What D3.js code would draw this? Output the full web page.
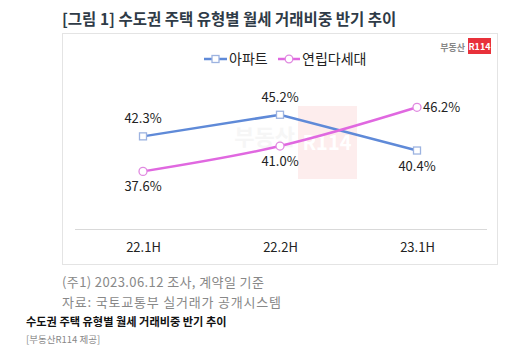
<!DOCTYPE html>
<html><head><meta charset="utf-8">
<script src="https://cdn.jsdelivr.net/npm/d3@7"></script>
<style>
body{margin:0;background:#fff;}
svg{display:block;font-family:"Noto Sans CJK KR","Noto Sans",sans-serif;}
</style></head>
<body>
<svg id="c" width="513" height="355"></svg>
<script>
const categories = ["22.1H", "22.2H", "23.1H"];
const apartment = [42.3, 45.2, 40.4];
const multiHouse = [37.6, 41.0, 46.2];
const seriesNames = ["아파트", "연립다세대"];
const aptLabelSide = ["top", "top", "bottom"];
const multiLabelSide = ["bottom", "bottom", "right"];
const yDomain = [30, 50];

const svg = d3.select("#c");

// Title
svg.append("text").attr("x", 62).attr("y", 25)
  .attr("font-size", 15.5).attr("font-weight", 700).attr("fill", "#2f3b47")
  .text("[그림 1] 수도권 주택 유형별 월세 거래비중 반기 추이");

// Chart box
svg.append("rect").attr("x", 62.5).attr("y", 33.5).attr("width", 435).attr("height", 231)
  .attr("fill", "#fff").attr("stroke", "#e4e4e4");

// Logo top-right
svg.append("text").attr("x", 465).attr("y", 51).attr("text-anchor", "end")
  .attr("font-size", 9).attr("font-weight", 700).attr("fill", "#888").text("부동산");
svg.append("rect").attr("x", 468).attr("y", 38).attr("width", 23).attr("height", 16).attr("fill", "#e8313a");
svg.append("text").attr("x", 479.5).attr("y", 50).attr("text-anchor", "middle")
  .attr("font-size", 9).attr("font-weight", 700).attr("fill", "#fff").text("R114");

const x = d3.scalePoint().domain(categories).range([143, 417]);
const y = d3.scaleLinear().domain(yDomain).range([228, 79]);

// Watermark
svg.append("rect").attr("x", 298).attr("y", 106).attr("width", 59).attr("height", 73).attr("fill", "#fdeded");
svg.append("text").attr("x", 295).attr("y", 145).attr("text-anchor", "end")
  .attr("font-size", 22).attr("font-weight", 700).attr("fill", "#f6f6f6").text("부동산");
svg.append("text").attr("x", 327).attr("y", 150).attr("text-anchor", "middle")
  .attr("font-size", 20).attr("font-weight", 700).attr("fill", "#fff").text("R114");

// Axis
const xAxis = d3.axisBottom(x).tickSize(0).tickPadding(14);
const gx = svg.append("g").attr("transform", "translate(0,229)").call(xAxis);
gx.select(".domain").attr("stroke", "#d9d9d9").attr("d", "M75,0.5H487");
gx.selectAll("text").attr("font-size", 13).attr("font-weight", 400).attr("fill", "#222")
  .attr("font-family", "'Noto Sans CJK KR','Noto Sans',sans-serif");

const blue = "#5f8ad8", pink = "#e068e0";

// Lines
const lineLin = d3.line().x((d, i) => x(categories[i])).y(d => y(d));
const lineCurve = d3.line().x((d, i) => x(categories[i])).y(d => y(d)).curve(d3.curveMonotoneX);
svg.append("path").datum(apartment).attr("d", lineLin).attr("fill", "none").attr("stroke", blue).attr("stroke-width", 2.5);
svg.append("path").datum(multiHouse).attr("d", lineCurve).attr("fill", "none").attr("stroke", pink).attr("stroke-width", 2.5);

// Markers
svg.selectAll(".sq").data(apartment).enter().append("rect")
  .attr("x", (d, i) => x(categories[i]) - 3.5).attr("y", d => y(d) - 3.5)
  .attr("width", 7).attr("height", 7).attr("fill", "#fff").attr("stroke", "#9db3e0").attr("stroke-width", 1.3);
svg.selectAll(".ci").data(multiHouse).enter().append("circle")
  .attr("cx", (d, i) => x(categories[i])).attr("cy", d => y(d)).attr("r", 4)
  .attr("fill", "#fff").attr("stroke", "#e08ae0").attr("stroke-width", 1.3);

// Labels
function addLabels(vals, sides) {
  vals.forEach((v, i) => {
    const px = x(categories[i]), py = y(v);
    let tx = px, ty = py, anchor = "middle";
    if (sides[i] === "top") { ty = py - 13; }
    else if (sides[i] === "bottom") { ty = py + 20; }
    else { tx = px + 6; ty = py + 5; anchor = "start"; }
    svg.append("text").attr("x", tx).attr("y", ty).attr("text-anchor", anchor)
      .attr("font-size", 13).attr("fill", "#222").text(v.toFixed(1) + "%");
  });
}
addLabels(apartment, aptLabelSide);
addLabels(multiHouse, multiLabelSide);

// Legend
const lg = svg.append("g");
lg.append("line").attr("x1", 204).attr("x2", 227).attr("y1", 59).attr("y2", 59).attr("stroke", blue).attr("stroke-width", 2.5);
lg.append("rect").attr("x", 212).attr("y", 55.5).attr("width", 7).attr("height", 7).attr("fill", "#fff").attr("stroke", "#9db3e0").attr("stroke-width", 1.3);
lg.append("text").attr("x", 229).attr("y", 64).attr("font-size", 14).attr("fill", "#222").text(seriesNames[0]);
lg.append("line").attr("x1", 278).attr("x2", 300).attr("y1", 59).attr("y2", 59).attr("stroke", pink).attr("stroke-width", 2.5);
lg.append("circle").attr("cx", 289).attr("cy", 59).attr("r", 3.8).attr("fill", "#fff").attr("stroke", "#e08ae0").attr("stroke-width", 1.3);
lg.append("text").attr("x", 302).attr("y", 64).attr("font-size", 14).attr("fill", "#222").text(seriesNames[1]);

// Footnotes
svg.append("text").attr("x", 62).attr("y", 287).attr("font-size", 13).attr("letter-spacing", 0.4).attr("fill", "#888").text("(주1) 2023.06.12 조사, 계약일 기준");
svg.append("text").attr("x", 62).attr("y", 307).attr("font-size", 13).attr("letter-spacing", 0.8).attr("fill", "#888").text("자료: 국토교통부 실거래가 공개시스템");
svg.append("text").attr("x", 26).attr("y", 326).attr("font-size", 11.2).attr("font-weight", 700).attr("fill", "#111").text("수도권 주택 유형별 월세 거래비중 반기 추이");
svg.append("text").attr("x", 26).attr("y", 343).attr("font-size", 9.5).attr("fill", "#888").text("[부동산R114 제공]");
</script>
</body></html>
